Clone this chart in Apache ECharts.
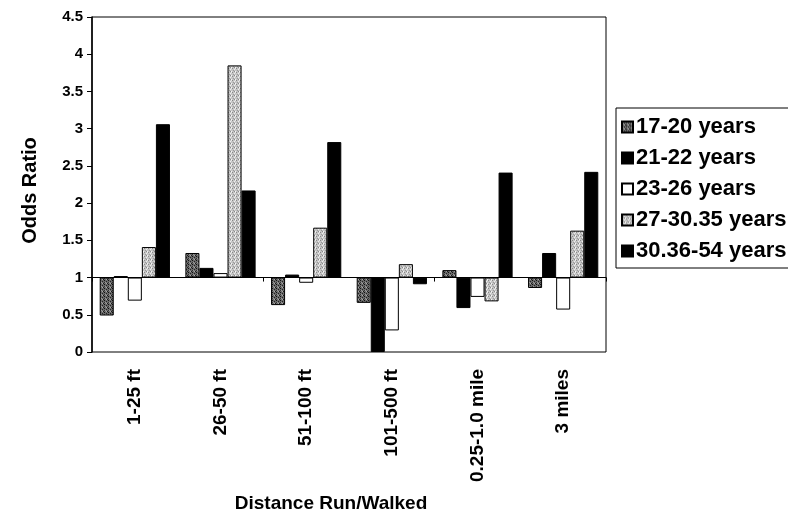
<!DOCTYPE html>
<html>
<head>
<meta charset="utf-8">
<script src="https://cdn.jsdelivr.net/npm/echarts@6/dist/echarts.min.js"></script>
<style>
  html, body { margin: 0; padding: 0; background: #fff; }
  #chart { width: 788px; height: 518px; }
</style>
</head>
<body>
<div id="chart"></div>
<script>
// Distance categories and odds ratios by age group
const categories = ['1-25 ft', '26-50 ft', '51-100 ft', '101-500 ft', '0.25-1.0 mile', '3 miles'];
const seriesNames = ['17-20 years', '21-22 years', '23-26 years', '27-30.35 years', '30.36-54 years'];
const age17to20 = [0.49, 1.33, 0.63, 0.66, 1.10, 0.86];
const age21to22 = [1.02, 1.13, 1.04, 0.00, 0.59, 1.33];
const age23to26 = [0.69, 1.06, 0.93, 0.29, 0.74, 0.57];
const age27to30 = [1.41, 3.85, 1.67, 1.18, 0.68, 1.63];
const age30to54 = [3.06, 2.17, 2.82, 0.91, 2.41, 2.42];
const yMin = 0;
const yMax = 4.5;
const yStep = 0.5;

// Bars grow up or down from an odds ratio of 1
const BASE = 1;

const FONT = '"Liberation Sans", Arial, sans-serif';

// Small speckled fills for the two grey groups
function speckle(base, dots) {
  const c = document.createElement('canvas');
  c.width = 4; c.height = 4;
  const g = c.getContext('2d');
  g.fillStyle = base;
  g.fillRect(0, 0, 4, 4);
  dots.forEach(([x, y, col]) => { g.fillStyle = col; g.fillRect(x, y, 1, 1); });
  return { image: c, repeat: 'repeat' };
}
const darkFill = speckle('#6a6a6a', [[0,0,'#111'],[2,1,'#222'],[1,2,'#999'],[3,3,'#1a1a1a'],[2,3,'#aaa'],[0,2,'#333']]);
const lightFill = speckle('#c4c4c4', [[0,0,'#888'],[2,1,'#eee'],[1,2,'#999'],[3,3,'#f4f4f4'],[2,3,'#8a8a8a'],[3,0,'#e8e8e8']]);

const groups = [
  { name: seriesNames[0], values: age17to20, color: darkFill },
  { name: seriesNames[1], values: age21to22, color: '#000' },
  { name: seriesNames[2], values: age23to26, color: '#fff' },
  { name: seriesNames[3], values: age27to30, color: lightFill },
  { name: seriesNames[4], values: age30to54, color: '#000' }
];

const chart = echarts.init(document.getElementById('chart'), null, { renderer: 'canvas' });

chart.setOption({
  animation: false,
  backgroundColor: '#fff',
  grid: {
    left: 92, right: 182, top: 17, bottom: 162,
    show: true, borderColor: '#000', borderWidth: 1, backgroundColor: 'transparent'
  },
  legend: {
    orient: 'vertical',
    left: 616, top: 108,
    itemWidth: 11, itemHeight: 11, itemGap: 7,
    borderColor: '#000', borderWidth: 1,
    padding: [7, 12, 5, 5],
    icon: 'rect',
    textStyle: { fontFamily: FONT, fontSize: 22, fontWeight: 'bold', color: '#000', lineHeight: 24, padding: [0, 0, 0, -2] },
    data: seriesNames
  },
  xAxis: [
    {
      type: 'category',
      data: categories,
      position: 'bottom',
      axisLine: { show: false, onZero: false },
      axisTick: { show: false },
      axisLabel: {
        rotate: 90, margin: 17,
        fontFamily: FONT, fontSize: 19, fontWeight: 'bold', color: '#000'
      },
      name: 'Distance Run/Walked',
      nameLocation: 'middle',
      nameGap: 142,
      nameTextStyle: { fontFamily: FONT, fontSize: 19, fontWeight: 'bold', color: '#000', padding: [0, 36, 0, 0] }
    },
    {
      type: 'category',
      data: categories,
      position: 'bottom',
      axisLine: { show: true, onZero: true, onZeroAxisIndex: 0, lineStyle: { color: '#000', width: 1 } },
      axisTick: { show: true, length: 4, lineStyle: { color: '#000' } },
      axisLabel: { show: false }
    }
  ],
  yAxis: {
    type: 'value',
    min: yMin - BASE,
    max: yMax - BASE,
    interval: yStep,
    axisLine: { show: true, lineStyle: { color: '#000', width: 1.5 } },
    axisTick: { show: true, length: 5, lineStyle: { color: '#000' } },
    splitLine: { show: false },
    axisLabel: {
      margin: 9,
      fontFamily: FONT, fontSize: 15, fontWeight: 'bold', color: '#000',
      formatter: v => String(+(v + BASE).toFixed(2))
    },
    name: 'Odds Ratio',
    nameLocation: 'middle',
    nameGap: 52,
    nameTextStyle: { fontFamily: FONT, fontSize: 20, fontWeight: 'bold', color: '#000', padding: [0, 12, 0, 0] }
  },
  series: groups.map(g => ({
    name: g.name,
    type: 'bar',
    xAxisIndex: 0,
    barGap: '0%',
    barCategoryGap: '18%',
    itemStyle: { color: g.color, borderColor: '#000', borderWidth: 1 },
    data: g.values.map(v => +(v - BASE).toFixed(3))
  }))
});
</script>
</body>
</html>
